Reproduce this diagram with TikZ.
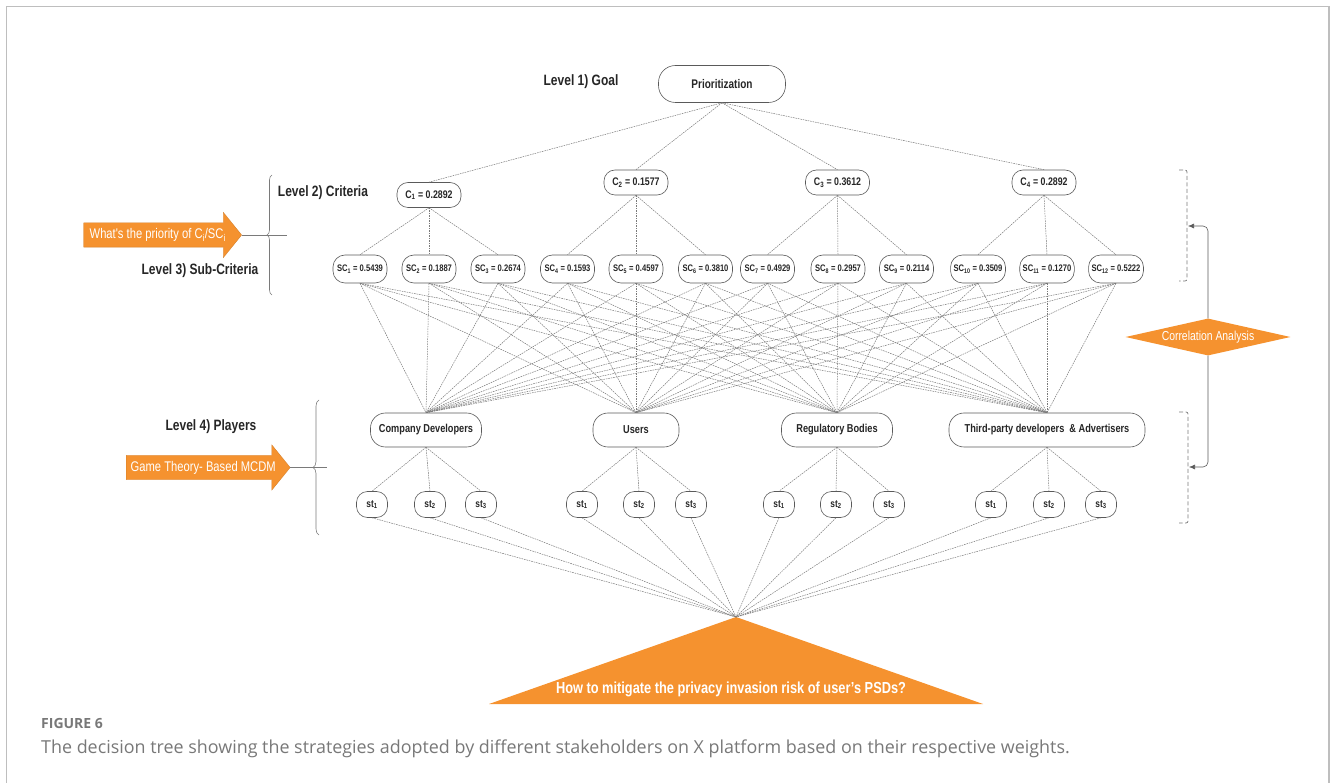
\documentclass[tikz,border=0pt]{standalone}
\usepackage{fontspec}
\usepackage{tikz}
\usetikzlibrary{arrows.meta,shapes.geometric,shapes.arrows,decorations.pathreplacing}
\newfontfamily\narrowfont[FakeStretch=0.8]{Liberation Sans}
\newfontfamily\capfont{Open Sans}
\definecolor{dtorange}{HTML}{F5922F}
\definecolor{dtink}{HTML}{262626}
\definecolor{dtedge}{HTML}{5A5A5A}
\definecolor{dtline}{HTML}{7A7A7A}
\definecolor{dtframe}{HTML}{BEBEBE}
\definecolor{dtcap}{HTML}{787878}
\tikzset{
  pill/.style={draw=dtedge, fill=white, line width=0.6pt, align=center, inner sep=2pt, text=dtink},
  goal/.style={pill, minimum width=127pt, minimum height=37pt, rounded corners=17pt, font=\narrowfont\bfseries\fontsize{12.5}{14}\selectfont},
  crit/.style={pill, minimum width=64pt, minimum height=25pt, rounded corners=11pt, font=\narrowfont\bfseries\fontsize{11}{13}\selectfont},
  sub/.style={pill, minimum width=54pt, minimum height=28pt, rounded corners=12pt, inner xsep=3pt, font=\narrowfont\bfseries\fontsize{9.5}{11}\selectfont},
  player/.style={pill, minimum height=34pt, rounded corners=15pt, font=\narrowfont\bfseries\fontsize{11.5}{13}\selectfont},
  strat/.style={pill, minimum width=31pt, minimum height=26pt, rounded corners=11pt, inner sep=1pt, font=\narrowfont\bfseries\fontsize{10.5}{12}\selectfont},
  lvl/.style={font=\narrowfont\bfseries\fontsize{15}{17}\selectfont, text=dtink, inner sep=0pt},
  link/.style={draw=dtline, line width=0.5pt, dash pattern=on 1.6pt off 0.9pt},
  callout/.style={single arrow, fill=dtorange, draw=dtorange!85!black, line width=0.3pt, text=white, font=\narrowfont\fontsize{14}{16}\selectfont,
    single arrow head extend=10.5pt, single arrow tip angle=102, inner xsep=3pt, inner ysep=7pt, text height=9pt, text depth=1pt},
  brc/.style={draw=dtline, line width=0.6pt, decorate},
  bracket/.style={draw=dtline, line width=0.7pt, dash pattern=on 4pt off 2.5pt, rounded corners=2pt},
  flow/.style={-{Latex[length=6pt, width=5pt]}, draw=dtedge, line width=0.6pt, rounded corners=5pt},
}

\begin{document}
\begin{tikzpicture}[x=1pt, y=-1pt]
  \useasboundingbox (0,0) rectangle (1331,783);
  \draw[dtframe, line width=1.5pt] (6.5,783) -- (6.5,6.5) -- (1329,6.5) -- (1329,783);

  % levels on the left
  \node[lvl] (lv1) at (581,82) {Level 1) Goal};
  \node[lvl] (lv2) at (323,193) {Level 2) Criteria};
  \node[lvl] (lv3) at (200,271) {Level 3) Sub-Criteria};
  \node[lvl] (lv4) at (211,427) {Level 4) Players};

  % goal and criteria
  \node[goal] (goal) at (722,84) {Prioritization};
  \node[crit] (c1) at (429,195) {C\textsubscript{1} = 0.2892};
  \node[crit] (c2) at (636,182.5) {C\textsubscript{2} = 0.1577};
  \node[crit] (c3) at (837.5,182.5) {C\textsubscript{3} = 0.3612};
  \node[crit] (c4) at (1044,182.5) {C\textsubscript{4} = 0.2892};
  \foreach \c in {c1,c2,c3,c4} \draw[link] (goal.south) -- (\c.north);

  % sub-criteria
  \foreach \i/\x/\v in {1/360/0.5439, 2/429/0.1887, 3/498/0.2674, 4/567.5/0.1593, 5/636/0.4597, 6/705.5/0.3810,
                        7/767.5/0.4929, 8/838/0.2957, 9/906.5/0.2114, 10/978/0.3509, 11/1047/0.1270, 12/1116/0.5222}
    \node[sub] (sc\i) at (\x,269) {SC\textsubscript{\i} = \v};
  \foreach \c/\a/\b/\d in {c1/sc1/sc2/sc3, c2/sc4/sc5/sc6, c3/sc7/sc8/sc9, c4/sc10/sc11/sc12} {
    \draw[link] (\c.south) -- (\a.north);
    \draw[link] (\c.south) -- (\b.north);
    \draw[link] (\c.south) -- (\d.north);
  }

  % players
  \node[player, minimum width=111pt] (dev) at (426,430) {Company Developers};
  \node[player, minimum width=86pt] (usr) at (636,430) {Users};
  \node[player, minimum width=111pt] (reg) at (837,430) {Regulatory Bodies};
  \node[player, minimum width=196pt] (adv) at (1047,430) {Third-party developers \ \& Advertisers};
  \foreach \i in {1,...,12}
    \foreach \p in {dev,usr,reg,adv}
      \draw[link] (sc\i.south) -- (\p.north);

  % strategies
  \foreach \p/\x/\k in {dev/372/1, dev/430/2, dev/481/3, usr/582/1, usr/639/2, usr/691/3,
                        reg/779/1, reg/836/2, reg/889/3, adv/991/1, adv/1049/2, adv/1101/3} {
    \node[strat] (st-\p-\k) at (\x,504.5) {st\textsubscript{\k}};
    \draw[link] (\p.south) -- (st-\p-\k.north);
  }

  % problem at the root
  \coordinate (apex) at (736,617);
  \fill[dtorange] (apex) -- (489,704) -- (983,704) -- cycle;
  \node[text=white, font=\narrowfont\bfseries\fontsize{16}{18}\selectfont] (question) at (731,689) {How to mitigate the privacy invasion risk of user’s PSDs?};
  \foreach \p/\k in {dev/1,dev/2,dev/3,usr/1,usr/2,usr/3,reg/1,reg/2,reg/3,adv/1,adv/2,adv/3}
    \draw[link] (st-\p-\k.south) -- (apex);

  % left side
  \node[callout, minimum height=158pt, anchor=tail] (askc) at (83.5,235) {What's the priority of C\textsubscript{i}/SC\textsubscript{i}};
  \node[callout, minimum height=164pt, anchor=tail] (game) at (126,467.5) {Game Theory- Based MCDM};
  \draw[brc, decoration={brace, amplitude=5pt}] (272,295) -- (272,175);
  \draw[brc, decoration={brace, amplitude=6pt}] (319,535) -- (319,400);
  \coordinate (askend) at (287,235);
  \coordinate (gameend) at (327,467.5);
  \draw[brc] (askc.tip) -- (askend);
  \draw[brc] (game.tip) -- (gameend);

  % right side
  \node[diamond, fill=dtorange, aspect=4.46, minimum width=165pt, minimum height=37pt, inner sep=0pt, text=white,
        font=\narrowfont\fontsize{13}{15}\selectfont] (corr) at (1208,337) {Correlation Analysis};
  \draw[bracket] (1179,170) -- (1187,170) -- (1187,281) -- (1179,281);
  \draw[bracket] (1179,412) -- (1188,412) -- (1188,523) -- (1179,523);
  \coordinate (critbr) at (1188,226);
  \coordinate (playbr) at (1189,467);
  \draw[flow] (corr.north) |- (critbr);
  \draw[flow] (corr.south) |- (playbr);

  % caption
  \node[anchor=base west, inner sep=0pt, text=dtcap, font=\capfont\bfseries\fontsize{14}{16}\selectfont] (figno) at (41,728) {FIGURE 6};
  \node[anchor=base west, inner sep=0pt, text=dtcap, font=\capfont\fontsize{17.9}{21}\selectfont] (figcap) at (41,753)
    {The decision tree showing the strategies adopted by different stakeholders on X platform based on their respective weights.};
\end{tikzpicture}
\end{document}
